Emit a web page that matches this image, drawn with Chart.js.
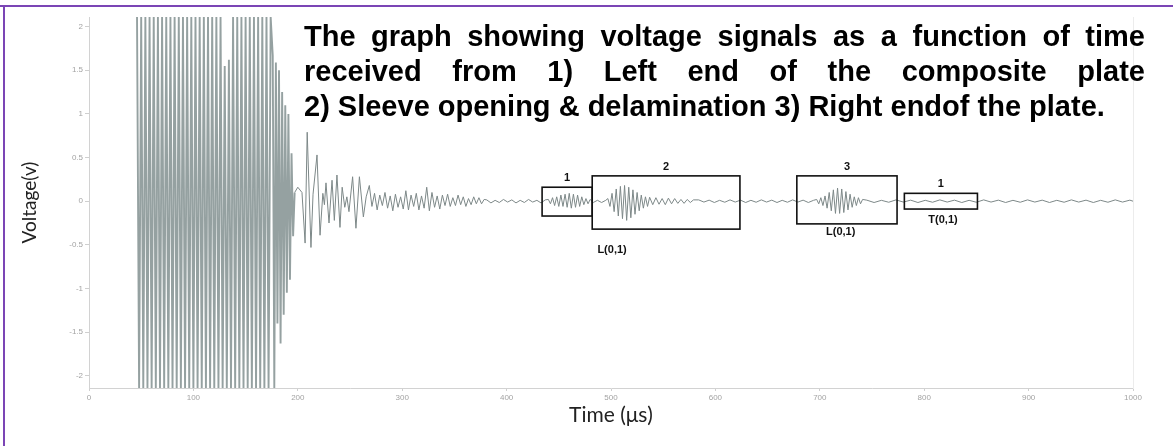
<!DOCTYPE html>
<html>
<head>
<meta charset="utf-8">
<script src="https://cdn.jsdelivr.net/npm/chart.js@4.4.1/dist/chart.umd.min.js"></script>
<style>
  body { margin: 0; background: #fff; }
  #wrap { position: relative; width: 1173px; height: 446px; overflow: hidden; }
  #chart { position: absolute; left: 0; top: 0; }
  .edge { position: absolute; background: #7b45b5; }
  #note { position: absolute; left: 304px; top: 19px; width: 841px; font: bold 29px "Liberation Sans", Arial, sans-serif; line-height: 35px; color: #000; }
  #note .fill { text-align: justify; text-align-last: justify; }
  #note .last { white-space: nowrap; }
</style>
</head>
<body>
<div id="wrap">
  <canvas id="chart" width="1173" height="446"></canvas>
  <div class="edge" style="left:0;top:5px;width:1173px;height:2px"></div>
  <div class="edge" style="left:3px;top:5px;width:2px;height:441px"></div>
  <div id="note">
    <div class="fill">The graph showing voltage signals as a function of time</div>
    <div class="fill">received from 1) Left end of the composite plate</div>
    <div class="last">2) Sleeve opening &amp; delamination 3) Right endof the plate.</div>
  </div>
</div>
<script>
// axis ticks
const xTicks = [0, 100, 200, 300, 400, 500, 600, 700, 800, 900, 1000];
const yTicks = [-2, -1.5, -1, -0.5, 0, 0.5, 1, 1.5, 2];

// excitation burst (saturated)
const burstTime = [46, 48, 50, 52, 54, 56, 58, 60, 62, 64, 66, 68, 70, 72, 74, 76, 78, 80, 82, 84,
  86, 88, 90, 92, 94, 96, 98, 100, 102, 104, 106, 108, 110, 112, 114, 116, 118, 120, 122, 124,
  126, 128, 130, 132, 134, 136, 138, 140, 142, 144, 146, 148, 150, 152, 154, 156, 158, 160, 162, 164,
  166, 168, 170, 172, 174];
const burstVolt = [2.11, -2.14, 2.11, -2.14, 2.11, -2.14, 2.11, -2.14, 2.11, -2.14,
  2.11, -2.14, 2.11, -2.14, 2.11, -2.14, 2.11, -2.14, 2.11, -2.14,
  2.11, -2.14, 2.11, -2.14, 2.11, -2.14, 2.11, -2.14, 2.11, -2.14,
  2.11, -2.14, 2.11, -2.14, 2.11, -2.14, 2.11, -2.14, 2.11, -2.14,
  2.11, -2.14, 1.55, -2.14, 1.62, -2.14, 2.11, -2.14, 2.11, -2.14,
  2.11, -2.14, 2.11, -2.14, 2.11, -2.14, 2.11, -2.14, 2.11, -2.14,
  2.11, -2.14, 2.11, -2.14, 2.11];

// end of burst
const tailTime = [176, 177.5, 179, 180.5, 182, 183.5, 185, 186.5, 188, 189.5, 191, 192.5, 194, 195.5, 197];
const tailVolt = [1.67, -2.14, 1.59, -1.4, 1.5, -1.63, 1.25, -1.3, 1.1, -1.05, 1.0, -0.9, 0.55, -0.4, 0.1];

// ring-down
const ringTime = [197, 200, 204, 207, 209, 212.6, 214.6, 218.4, 221.3, 224, 225.5, 227, 229.9, 232.8, 235,
  237.5, 240.4, 242.5, 245, 247, 249, 252.5, 255.7, 259, 262.8, 265.5, 268.5];
const ringVolt = [0.1, 0.16, 0.1, -0.48, 0.79, -0.53, 0.08, 0.53, -0.39, 0.09, -0.04, 0.21, -0.25, 0.24, -0.22,
  0.30, -0.30, 0.16, -0.07, 0.05, -0.12, 0.28, -0.31, 0.28, -0.18, 0.05, 0.18];

// small residual waves
const codaTime = [271, 273.5, 276, 278.5, 281, 283.5, 286, 288.5, 291, 293.5, 296, 298.5, 301, 303.5,
  306, 308.5, 311, 313.5, 316, 318.5, 321, 323.5, 326, 328.5, 331, 333.5, 336, 338.5, 341, 343.5,
  346, 348.5, 351, 353.5, 356, 358.5, 361, 363.5, 366, 368.5, 371, 373.5, 376, 378.5];
const codaVolt = [-0.06, 0.09, -0.1, 0.07, -0.05, 0.1, -0.08, 0.06, -0.11, 0.08,
  -0.07, 0.05, -0.09, 0.12, -0.1, 0.07, -0.06, 0.09, -0.1, 0.06,
  -0.08, 0.16, -0.11, 0.1, -0.07, 0.06, -0.09, 0.07, -0.05, 0.08,
  -0.06, 0.04, -0.05, 0.07, -0.04, 0.05, -0.06, 0.03, -0.04, 0.05,
  -0.03, 0.04, -0.03, 0.02];

const quietTime1 = [381, 385, 389, 393, 397, 401, 405, 409, 413, 417, 421, 425, 429, 433, 437];
const quietVolt1 = [0.015, -0.02, 0.01, -0.015, 0.02, -0.01, 0.015, -0.02, 0.01, -0.015, 0.02, -0.01, 0.01, -0.02, 0.015];

// packet 1 : left end
const leftTime = [440, 442, 444, 446, 448, 450, 452, 454, 456, 458, 460, 462, 464, 466, 468, 470, 472, 474, 476, 478, 480];
const leftVolt = [0.02, -0.03, 0.04, -0.05, 0.05, -0.06, 0.07, -0.06, 0.08, -0.07, 0.09, -0.08, 0.08, -0.07, 0.07, -0.06, 0.05, -0.04, 0.03, -0.03, 0.02];

const gapTime = [483, 487, 491, 495];
const gapVolt = [-0.015, 0.01, -0.015, 0.01];

// packet 2 : sleeve opening & delamination
const sleeveTime = [497, 499, 501, 503, 505, 507, 509, 511, 513, 515, 517, 519, 521, 523, 525, 527, 529, 531, 533, 535,
  537, 540, 543, 546, 549, 552, 555, 558, 561, 564, 567, 570, 573, 576, 579];
const sleeveVolt = [0.03, -0.06, 0.09, -0.12, 0.14, -0.17, 0.17, -0.2, 0.18, -0.22, 0.16, -0.19, 0.13, -0.15, 0.1, -0.11, 0.07, -0.08, 0.05, -0.06,
  0.045, -0.04, 0.04, -0.035, 0.03, -0.04, 0.035, -0.03, 0.03, -0.025, 0.02, -0.025, 0.02, -0.015, 0.015];

const quietTime2 = [584, 589, 594, 599, 604, 609, 614, 619, 624, 629, 634, 639, 644, 649, 654, 659, 664, 669, 674, 679, 684, 689, 694];
const quietVolt2 = [0.015, -0.01, 0.012, -0.015, 0.01, -0.012, 0.015, -0.01, 0.012, -0.015, 0.01, -0.012,
  0.015, -0.01, 0.012, -0.015, 0.01, -0.012, 0.015, -0.01, 0.012, -0.015, 0.01];

// packet 3 : right end
const rightTime = [697, 699, 701, 703, 705, 707, 709, 711, 713, 715, 717, 719, 721, 723, 725, 727, 729, 731, 733, 735, 737, 739, 741];
const rightVolt = [0.02, -0.03, 0.04, -0.05, 0.06, -0.08, 0.1, -0.11, 0.13, -0.14, 0.15, -0.14, 0.14, -0.13, 0.11, -0.1, 0.08, -0.07, 0.05, -0.05, 0.04, -0.03, 0.02];

const quietTime3 = [745, 752, 759, 766, 773, 780, 787, 794, 801, 808, 815, 822, 829, 836, 843, 850, 857, 864, 871,
  878, 885, 892, 899, 906, 913, 920, 927, 934, 941, 948, 955, 962, 969, 976, 983, 990, 997, 1000];
const quietVolt3 = [0.012, -0.015, 0.01, -0.012, 0.015, -0.01, 0.012, -0.015, 0.01, -0.012,
  0.015, -0.01, 0.012, -0.015, 0.01, -0.012, 0.015, -0.01, 0.012, -0.015,
  0.01, -0.012, 0.015, -0.01, 0.012, -0.015, 0.01, -0.012, 0.015, -0.01,
  0.012, -0.015, 0.01, -0.012, 0.015, -0.01, 0.012, 0];

// marked windows
const boxNames = ["1", "2", "3", "1"];
const boxStart = [434, 482, 678, 781];
const boxEnd = [482, 623.5, 774, 851];
const boxTop = [0.16, 0.29, 0.29, 0.09];
const boxBottom = [-0.17, -0.32, -0.26, -0.09];
const modeNames = ["L(0,1)", "L(0,1)", "T(0,1)"];
const modeTime = [501, 720, 818];
const modeVolt = [-0.56, -0.355, -0.22];

const burstT = [].concat(burstTime, tailTime);
const burstV = [].concat(burstVolt, tailVolt);
const echoT = [].concat(ringTime, codaTime, quietTime1, leftTime, gapTime, sleeveTime, quietTime2, rightTime, quietTime3);
const echoV = [].concat(ringVolt, codaVolt, quietVolt1, leftVolt, gapVolt, sleeveVolt, quietVolt2, rightVolt, quietVolt3);

const toPoints = (ts, vs) => ts.map((t, i) => ({x: t, y: vs[i]}));

const boxPlugin = {
  id: "boxes",
  afterDatasetsDraw(chart) {
    const {ctx, scales: {x, y}} = chart;
    ctx.save();
    ctx.strokeStyle = "#111";
    ctx.fillStyle = "#111";
    ctx.lineWidth = 1.6;
    ctx.font = "bold 11px 'Liberation Sans', Arial, sans-serif";
    ctx.textAlign = "center";
    ctx.textBaseline = "middle";
    boxStart.forEach((t0, i) => {
      const left = x.getPixelForValue(t0);
      const right = x.getPixelForValue(boxEnd[i]);
      const top = y.getPixelForValue(boxTop[i]);
      const bottom = y.getPixelForValue(boxBottom[i]);
      ctx.strokeRect(left, top, right - left, bottom - top);
      ctx.fillText(boxNames[i], (left + right) / 2, top - 9);
    });
    modeNames.forEach((m, i) => {
      ctx.fillText(m, x.getPixelForValue(modeTime[i]), y.getPixelForValue(modeVolt[i]));
    });
    ctx.restore();
  }
};

const tickFont = {family: "'Liberation Sans', Arial, sans-serif", size: 8};

new Chart(document.getElementById("chart"), {
  type: "line",
  data: {
    datasets: [{
      data: toPoints(burstT, burstV),
      borderColor: "#95a1a1",
      borderWidth: 1.9,
      pointRadius: 0,
      tension: 0
    }, {
      data: toPoints(echoT, echoV),
      borderColor: "#7d8888",
      borderWidth: 1,
      pointRadius: 0,
      tension: 0
    }]
  },
  options: {
    responsive: false,
    animation: false,
    events: [],
    layout: {padding: {top: 17, left: 0, right: 0, bottom: 0}},
    plugins: {legend: {display: false}, tooltip: {enabled: false}},
    scales: {
      x: {
        type: "linear",
        min: 0,
        max: 1000,
        afterBuildTicks: s => { s.ticks = xTicks.map(v => ({value: v})); },
        afterFit: s => { s.height = 58; },
        grid: {drawOnChartArea: false, tickLength: 3, color: "#cfcfcf"},
        border: {color: "#d2d2d2"},
        ticks: {font: tickFont, color: "#a3a3a3", padding: 2, maxRotation: 0, callback: v => String(v)},
        title: {display: true, text: "Time (μs)", color: "#222", font: {family: "Lato, 'Open Sans', sans-serif", size: 21}, padding: {top: 0, bottom: 18}}
      },
      y: {
        min: -2.14,
        max: 2.11,
        afterBuildTicks: s => { s.ticks = yTicks.map(v => ({value: v})); },
        afterFit: s => { s.width = 89; },
        grid: {drawOnChartArea: false, tickLength: 4, color: "#cfcfcf"},
        border: {color: "#d2d2d2"},
        ticks: {font: tickFont, color: "#a3a3a3", padding: 2, callback: v => String(v)},
        title: {display: true, text: "Voltage(v)", color: "#222", font: {family: "Lato, 'Open Sans', sans-serif", size: 19}, padding: {top: 18, bottom: 0}}
      },
      y2: {
        position: "right",
        min: -2.14,
        max: 2.11,
        afterFit: s => { s.width = 40; },
        grid: {drawOnChartArea: false, drawTicks: false},
        border: {color: "#ececec"},
        ticks: {display: false}
      }
    }
  },
  plugins: [boxPlugin]
});
</script>
</body>
</html>
